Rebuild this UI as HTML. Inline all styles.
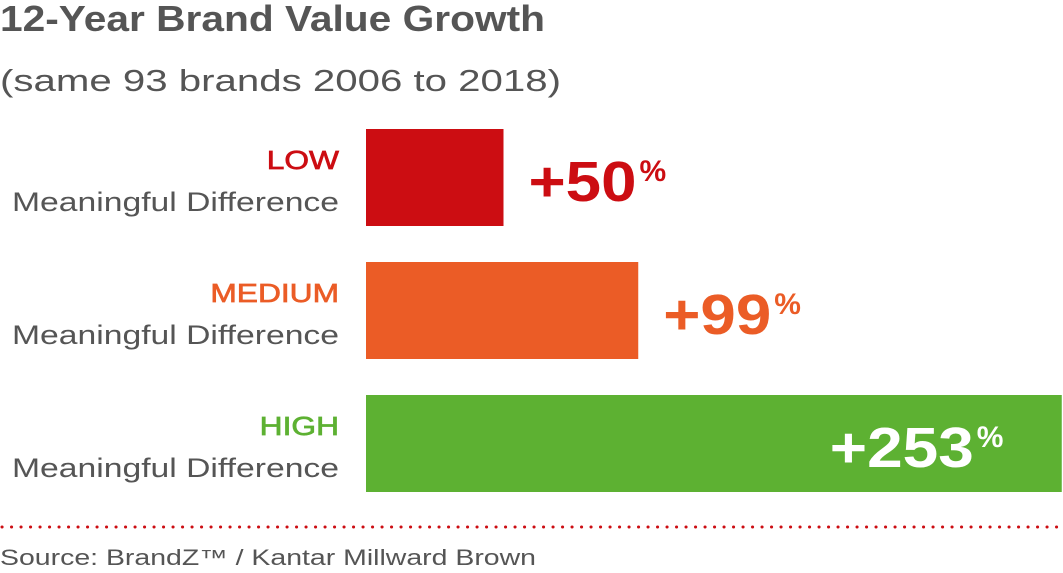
<!DOCTYPE html>
<html><head><meta charset="utf-8"><style>
html,body{margin:0;padding:0;background:#fff;}
svg{display:block;font-family:"Liberation Sans",sans-serif;}
</style></head><body>
<svg id="chart" width="1063" height="573" viewBox="0 0 1063 573">
<text x="0" y="31" font-size="36" font-weight="bold" fill="#555" textLength="545" lengthAdjust="spacingAndGlyphs">12-Year Brand Value Growth</text>
<text x="0" y="91" font-size="31" fill="#555" textLength="561" lengthAdjust="spacingAndGlyphs">(same 93 brands 2006 to 2018)</text>
<g id="bars"></g>
<line x1="2" y1="527" x2="1063" y2="527" stroke="#cc0d12" stroke-width="3" stroke-dasharray="0.1 9.4" stroke-linecap="round"/>
<text x="0" y="565" font-size="22" fill="#555" textLength="536" lengthAdjust="spacingAndGlyphs">Source: BrandZ™ / Kantar Millward Brown</text>
</svg>
<script>
const categories = ["LOW", "MEDIUM", "HIGH"];
const values = [50, 99, 253];
const colors = ["#cc0d12", "#eb5c26", "#5db132"];
const ns = "http://www.w3.org/2000/svg";
const g = document.getElementById("bars");
const x0 = 366, pxPerUnit = 2.75, bandTop = 129, bandStep = 133, barH = 97;
function xScale(v){ return x0 + v * pxPerUnit; }
function yScale(i){ return bandTop + i * bandStep; }
function mk(tag, attrs){ const e = document.createElementNS(ns, tag); for (const k in attrs) e.setAttribute(k, attrs[k]); return e; }
categories.forEach((c, i) => {
  const y = yScale(i), xe = xScale(values[i]);
  const r = mk("rect", {x: x0, y: y, width: xe - x0, height: barH, fill: colors[i]});
  
  
  g.appendChild(r);
  const t1 = mk("text", {x: 339, y: y + 40, "font-size": 26, fill: colors[i], stroke: colors[i], "stroke-width": 0.7, "text-anchor": "end"});
  t1.textContent = c;
  
  
  g.appendChild(t1);
  const nat = t1.getComputedTextLength();
  t1.setAttribute("textLength", nat * 1.22);
  t1.setAttribute("lengthAdjust", "spacingAndGlyphs");
  const t2 = mk("text", {x: 339, y: y + 82, "font-size": 27, fill: "#555", "text-anchor": "end", textLength: 327, lengthAdjust: "spacingAndGlyphs"});
  t2.textContent = "Meaningful Difference";
  
  
  g.appendChild(t2);
  const label = "+" + values[i];
  const w = label.length * 36;
  const inside = xe + 26 + w + 30 > 1063;
  const lx = inside ? xe - 88 - w : xe + 25;
  const vt = mk("text", {x: lx, y: y + 72, "font-size": 57, "font-weight": "bold", fill: inside ? "#fff" : colors[i], textLength: w, lengthAdjust: "spacingAndGlyphs"});
  vt.textContent = label;
  
  
  g.appendChild(vt);
  const pt = mk("text", {x: lx + w + 3, y: y + 52, "font-size": 30, "font-weight": "bold", fill: inside ? "#fff" : colors[i]});
  pt.textContent = "%";
  
  
  g.appendChild(pt);
});
</script>
</body></html>
